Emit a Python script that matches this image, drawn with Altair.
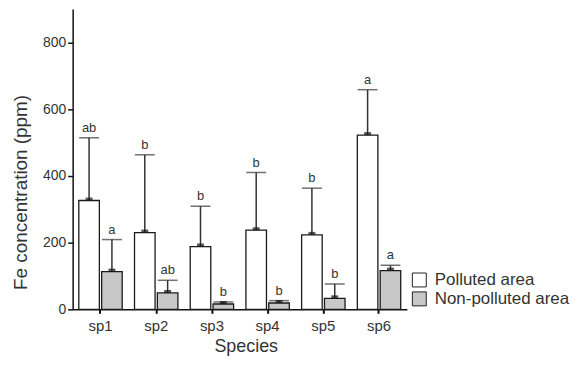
import altair as alt
import pandas as pd

species = ["sp1", "sp2", "sp3", "sp4", "sp5", "sp6"]
groups = ["Polluted area", "Non-polluted area"]
polluted_mean = [326, 230, 188, 237, 223, 522]
polluted_upper = [514, 463, 309, 410, 363, 658]
polluted_letter = ["ab", "b", "b", "b", "b", "a"]
nonpolluted_mean = [113, 49, 16, 19, 33, 116]
nonpolluted_upper = [209, 87, 22, 26, 76, 132]
nonpolluted_letter = ["a", "ab", "b", "b", "b", "a"]

rows = []
for i, sp in enumerate(species):
    rows.append({"species": sp, "group": groups[0], "mean": polluted_mean[i],
                 "upper": polluted_upper[i], "letter": polluted_letter[i]})
    rows.append({"species": sp, "group": groups[1], "mean": nonpolluted_mean[i],
                 "upper": nonpolluted_upper[i], "letter": nonpolluted_letter[i]})
df = pd.DataFrame(rows)

FONT = "Liberation Sans"
TXT = "#333333"

x_enc = alt.X("species:N", sort=species,
              scale=alt.Scale(paddingInner=0.18, paddingOuter=0.09),
              axis=alt.Axis(title="Species", labelAngle=0, labelFontSize=15,
                            labelFont=FONT, labelColor=TXT, labelPadding=5,
                            tickSize=4, tickWidth=2, tickColor="#111",
                            titleFontSize=18, titleFont=FONT, titleColor=TXT,
                            titleFontWeight="normal", titleX=174, titleY=42,
                            titleBaseline="alphabetic", domainColor="#111",
                            domainWidth=1.5))
xo_enc = alt.XOffset("group:N", sort=groups,
                     scale=alt.Scale(domain=groups, paddingInner=0.1, paddingOuter=0.05))
y_scale = alt.Scale(domain=[0, 900], nice=False)

base = alt.Chart(df).encode(x=x_enc, xOffset=xo_enc)

bars = base.mark_bar(stroke="#1a1a1a", strokeWidth=1.3).encode(
    y=alt.Y("mean:Q", scale=y_scale,
            axis=alt.Axis(title="Fe concentration (ppm)", values=[0, 200, 400, 600, 800],
                          labelFontSize=14, labelFont=FONT, labelColor=TXT,
                          labelPadding=2, tickSize=5, tickWidth=1.5, tickColor="#111",
                          titleFontSize=19, titleFont=FONT, titleColor=TXT,
                          titleFontWeight="normal", titleX=-46, titleY=184,
                          titleBaseline="alphabetic", domainColor="#111",
                          domainWidth=1.5, grid=False)),
    fill=alt.Fill("group:N", sort=groups,
                  scale=alt.Scale(domain=groups, range=["#ffffff", "#c8c8c8"]),
                  legend=alt.Legend(title=None, orient="none", legendX=340, legendY=264,
                                    symbolType="square", symbolSize=196,
                                    symbolStrokeColor="#222222", symbolStrokeWidth=1,
                                    labelFontSize=17, labelFont=FONT, labelColor=TXT,
                                    labelOffset=7, rowPadding=0, padding=0)),
)

rules = base.mark_rule(color="#333333", strokeWidth=1.5).encode(
    y=alt.Y("mean:Q", scale=y_scale), y2="upper:Q")
caps = base.mark_tick(color="#333333", thickness=1.5, size=20).encode(
    y=alt.Y("upper:Q", scale=y_scale))
means = base.mark_tick(color="#111111", thickness=3, size=7, yOffset=-1.5).encode(
    y=alt.Y("mean:Q", scale=y_scale))
letters = base.mark_text(dy=-6, baseline="alphabetic", fontSize=13, font=FONT,
                         color=TXT).encode(
    y=alt.Y("upper:Q", scale=y_scale), text="letter:N")

chart = alt.layer(bars, rules, caps, means, letters).properties(
    width=336, height=302,
    background="white",
    autosize=alt.AutoSizeParams(type="none"),
    padding={"left": 65, "top": 0, "right": 167, "bottom": 48},
).configure_view(strokeWidth=0)

chart.save("out.html", embed_options={"renderer": "svg", "actions": False})
